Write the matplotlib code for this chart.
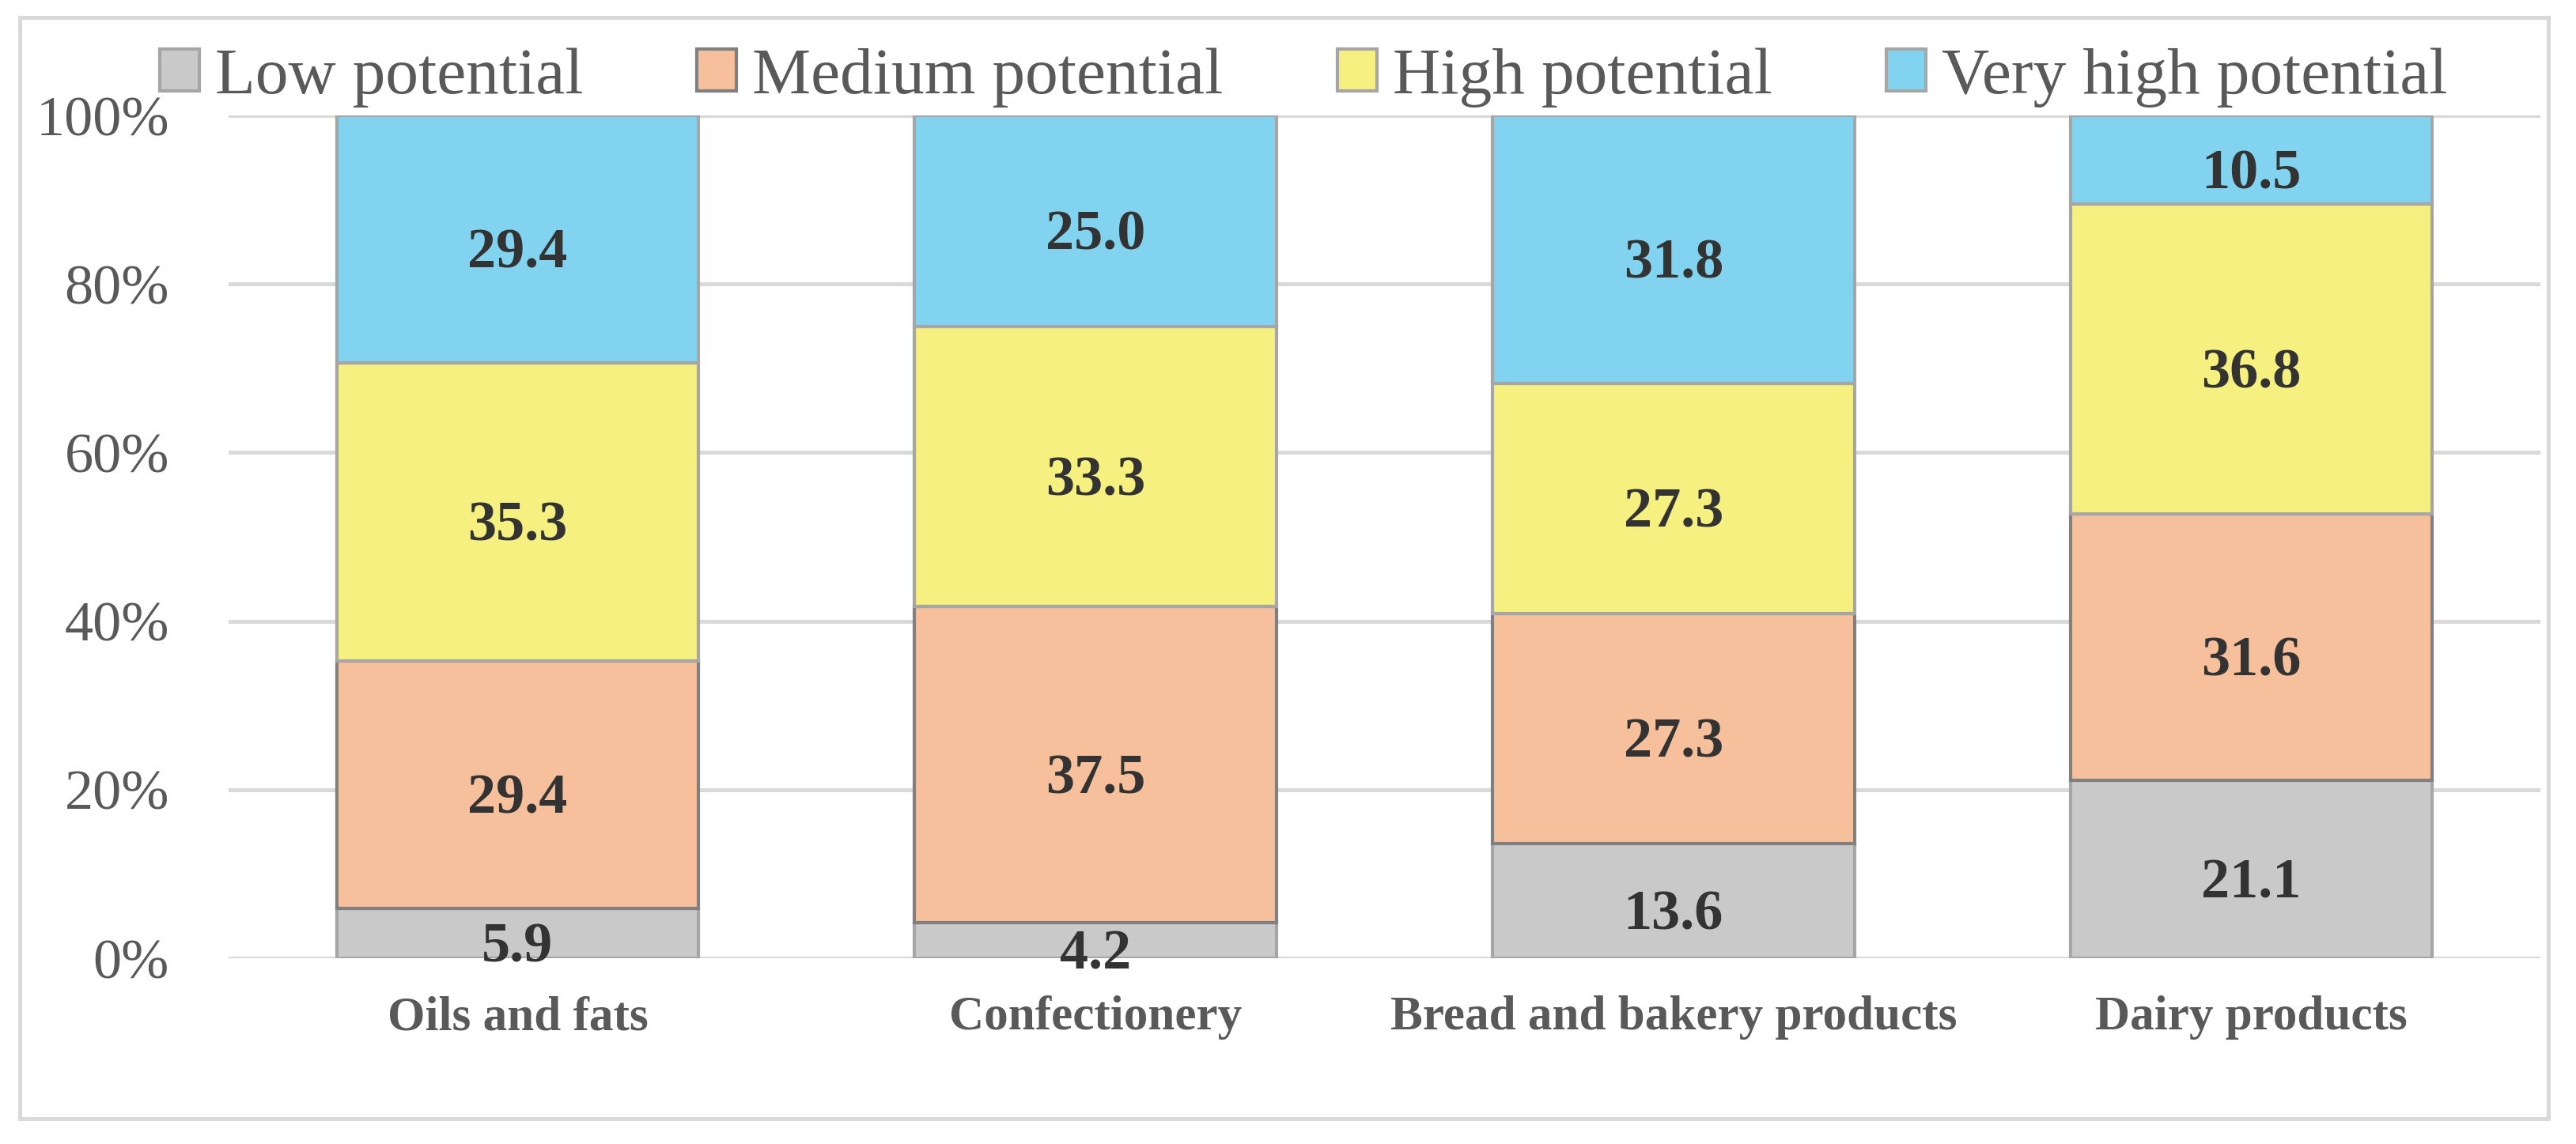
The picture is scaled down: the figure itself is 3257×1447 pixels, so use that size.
#!/usr/bin/env python3

import numpy as np
from matplotlib import pyplot as plt
from matplotlib.patches import Rectangle

categories = ['Oils and fats', 'Confectionery', 'Bread and bakery products', 'Dairy products']
series = ['Low potential', 'Medium potential', 'High potential', 'Very high potential']
low = [5.9, 4.2, 13.6, 21.1]
medium = [29.4, 37.5, 27.3, 31.6]
high = [35.3, 33.3, 27.3, 36.8]
very_high = [29.4, 25.0, 31.8, 10.5]
yticks = [0, 20, 40, 60, 80, 100]
ytick_labels = ['0%', '20%', '40%', '60%', '80%', '100%']

fills = ['#C9C9C9', '#F5C09B', '#F5F07F', '#82D3F0']
edges = ['#A6A6A6', '#808080', '#A6A6A6', '#A6A6A6']

plt.rcParams['font.family'] = ['Liberation Serif', 'DejaVu Serif']

fig = plt.figure(figsize=(3257/200, 1447/200), dpi=200)
ax = fig.add_axes([289/3257, 1 - 1212/1447, (3212 - 289)/3257, (1212 - 146)/1447])

# outer frame
fig.patches.append(Rectangle((25/3257, 1 - 1415/1447), (3222 - 25)/3257, (1415 - 22)/1447,
                             transform=fig.transFigure, fill=False,
                             edgecolor='#D9D9D9', linewidth=1.8))

x = np.arange(len(categories))
bottom = np.zeros(len(categories))
for name, vals, fc, ec in zip(series, [low, medium, high, very_high], fills, edges):
    vals = np.array(vals)
    ax.bar(x, vals, 0.626, bottom=bottom, color=fc, edgecolor=ec,
           linewidth=1.5, label=name, zorder=3)
    for xi, b, v in zip(x, bottom, vals):
        ax.annotate(f'{v:.1f}', (xi, b + v/2), xytext=(0, -13), textcoords='offset points',
                    ha='center', va='baseline', fontsize=26, fontweight='bold',
                    color='#333333', zorder=5)
    bottom += vals

ax.set_xlim(-0.5, 3.5)
ax.set_ylim(0, 100)
ax.set_yticks(yticks)
ax.set_yticklabels(ytick_labels, fontsize=26, color='#595959')
ax.set_xticks(x)
ax.set_xticklabels(categories, fontsize=22, fontweight='bold', color='#595959')
ax.tick_params(axis='y', length=0, pad=27)
ax.tick_params(axis='x', length=0, pad=17)
ax.grid(axis='y', color='#D9D9D9', linewidth=1.8, zorder=0)
ax.set_axisbelow(True)
for s in ax.spines.values():
    s.set_visible(False)

fig.legend(loc='center', bbox_to_anchor=(0.506, 0.932), ncol=4, frameon=False,
           fontsize=30, labelcolor='#595959', handlelength=0.6, handleheight=0.6,
           handletextpad=0.24, columnspacing=1.73)

fig.savefig('out.png', dpi=200)
